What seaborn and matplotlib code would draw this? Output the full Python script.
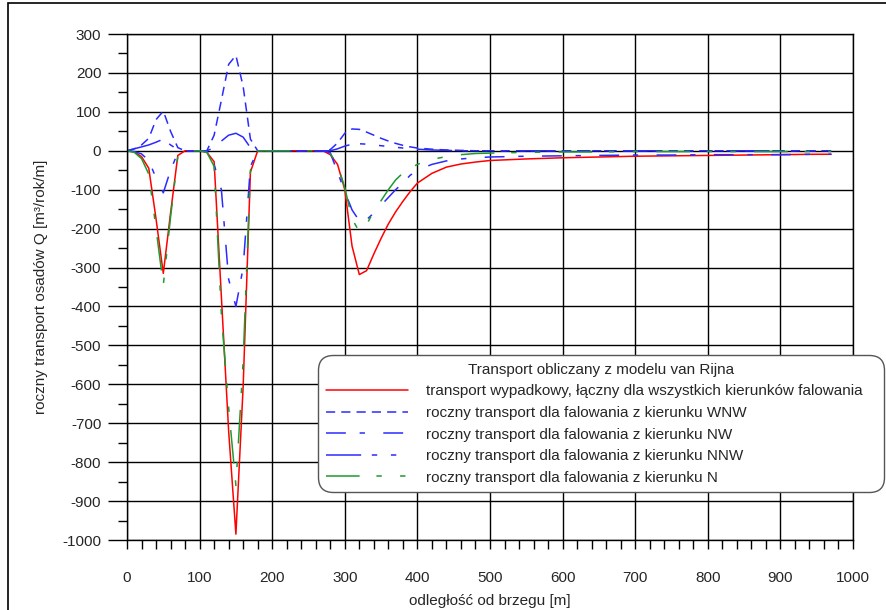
import numpy as np
import pandas as pd
import matplotlib
matplotlib.use("Agg")
import matplotlib.pyplot as plt
from matplotlib.patches import Rectangle
from matplotlib.ticker import MultipleLocator
import seaborn as sns

# distance from the shore [m]
x_m = [0, 10, 20, 30, 40, 50, 60, 70, 80, 100, 110, 120, 130, 140, 150, 160, 170, 180,
       200, 250, 270, 280, 290, 300, 310, 320, 330, 340, 350, 360, 370, 380, 390, 400,
       420, 440, 460, 480, 500, 550, 600, 650, 700, 750, 800, 850, 900, 950, 970]

# annual sediment transport Q [m3/year/m]
q_total = [0, -3, -15, -45, -175, -315, -160, -12, 0, 0, -4, -28, -375, -720, -985, -605, -55, 0,
           0, 0, 0, -10, -35, -100, -245, -318, -308, -265, -225, -188, -157, -130, -105, -83,
           -58, -42, -34, -29, -25, -21, -18, -16, -14, -13, -12, -11, -10, -9, -9]
q_wnw = [0, 5, 15, 32, 80, 102, 50, 8, 0, 0, 0, 40, 130, 222, 245, 165, 30, 0,
         0, 0, 0, 3, 20, 45, 56, 55, 48, 40, 32, 25, 19, 14, 10, 7,
         4, 2, 1, 0, 0, 0, 0, 0, 0, 0, 0, 0, 0, 0, 0]
q_nw = [0, -2, -8, -25, -70, -108, -50, -5, 0, 0, 0, -35, -100, -330, -400, -300, -40, 0,
        0, 0, 0, -5, -55, -105, -152, -180, -177, -160, -140, -120, -100, -83, -63, -50,
        -35, -26, -21, -18, -16, -14, -13, -12, -11, -11, -10, -10, -10, -9, -9]
q_nnw = [0, 5, 10, 15, 22, 30, 15, 3, 0, 0, 0, 8, 25, 40, 45, 35, 8, 0,
         0, 0, 0, 0, 5, 12, 17, 18, 17, 15, 13, 11, 9, 7, 5, 4,
         2, 1, 0, 0, 0, 0, 0, 0, 0, 0, 0, 0, 0, 0, 0]
q_n = [0, -4, -20, -60, -200, -345, -170, -15, 0, 0, -4, -40, -420, -660, -860, -540, -50, 0,
       0, 0, 0, -8, -35, -95, -175, -208, -190, -155, -128, -100, -75, -57, -45, -35,
       -22, -15, -10, -7, -6, -4, -3, -3, -2, -2, -2, -2, -2, -2, -2]

series_names = [
    "transport wypadkowy, łączny dla wszystkich kierunków falowania",
    "roczny transport dla falowania z kierunku WNW",
    "roczny transport dla falowania z kierunku NW",
    "roczny transport dla falowania z kierunku NNW",
    "roczny transport dla falowania z kierunku N",
]
series_values = [q_total, q_wnw, q_nw, q_nnw, q_n]
legend_title = "Transport obliczany z modelu van Rijna"

x_ticks = list(range(0, 1001, 100))
y_ticks = list(range(-1000, 301, 100))

colors = ["#ff0000", "#2b2bff", "#2b2bff", "#2b2bff", "#1e9a30"]
dash_styles = [
    "",
    (6, 4),
    (13, 9, 3.5, 12),
    (23, 7, 3.5, 9, 3.5, 9, 3.5, 9),
    (22, 11, 3.5, 12, 3.5, 12),
]

df = pd.concat(
    [pd.DataFrame({"x": x_m, "q": v, "seria": name}) for name, v in zip(series_names, series_values)],
    ignore_index=True,
)

sns.set_theme(style="white")
plt.rcParams["font.family"] = ["Liberation Sans", "DejaVu Sans"]
plt.rcParams["axes.unicode_minus"] = False

fig = plt.figure(figsize=(8.87, 6.10), dpi=100)
ax = fig.add_axes([127 / 887, 1 - 540 / 610, (853 - 127) / 887, (540 - 34) / 610])

sns.lineplot(
    data=df, x="x", y="q", hue="seria", style="seria",
    hue_order=series_names, style_order=series_names,
    palette=dict(zip(series_names, colors)),
    dashes=dict(zip(series_names, dash_styles)),
    estimator=None, sort=False, linewidth=1.1, legend=False, ax=ax,
)

ax.set_xlim(0, 1000)
ax.set_ylim(-1000, 300)
ax.set_xticks(x_ticks)
ax.set_yticks(y_ticks)
ax.xaxis.set_minor_locator(MultipleLocator(20))
ax.yaxis.set_minor_locator(MultipleLocator(50))
ax.grid(True, which="major", color="black", linewidth=1.0)
ax.set_axisbelow(True)
for sp in ax.spines.values():
    sp.set_color("black")
    sp.set_linewidth(1.0)

ax.tick_params(axis="y", which="major", direction="out", length=13.5, width=1.0,
               color="black", labelsize=11, pad=5, left=True)
ax.tick_params(axis="y", which="minor", direction="out", length=6.5, width=1.0,
               color="black", left=True)
ax.tick_params(axis="x", which="major", direction="out", length=6.5, width=1.0,
               color="black", labelsize=11, pad=16, bottom=True)
ax.tick_params(axis="x", which="minor", direction="out", length=6.5, width=1.0,
               color="black", bottom=True)

ax.set_xlabel("odległość od brzegu [m]", fontsize=11, labelpad=6)
ax.set_ylabel("roczny transport osadów Q [m³/rok/m]", fontsize=11, labelpad=10)

# legend box spanning from inside the plot to past its right edge
lx0, lx1 = 318 / 887, 884 / 887
ly1 = 1 - 355 / 610
handles = ax.lines[:len(series_names)]
leg = fig.legend(
    handles, series_names, title=legend_title,
    loc="upper left", bbox_to_anchor=(lx0, ly1 - 0.3, lx1 - lx0, 0.3),
    mode="expand", borderaxespad=0.0,
    fontsize=11, title_fontsize=11, handlelength=5.4, handletextpad=1.2,
    labelspacing=0.5, borderpad=0.5, fancybox=True, framealpha=1,
    edgecolor="#555555",
)
leg.get_frame().set_linewidth(1.0)
leg.get_frame().set_boxstyle("round", pad=0, rounding_size=1.0)

fig.patches.append(Rectangle((8 / 887, -0.1), 1.2, 1.1 - 3 / 610, transform=fig.transFigure,
                             fill=False, edgecolor="black", linewidth=1.2))

fig.savefig("out.png", dpi=100)
